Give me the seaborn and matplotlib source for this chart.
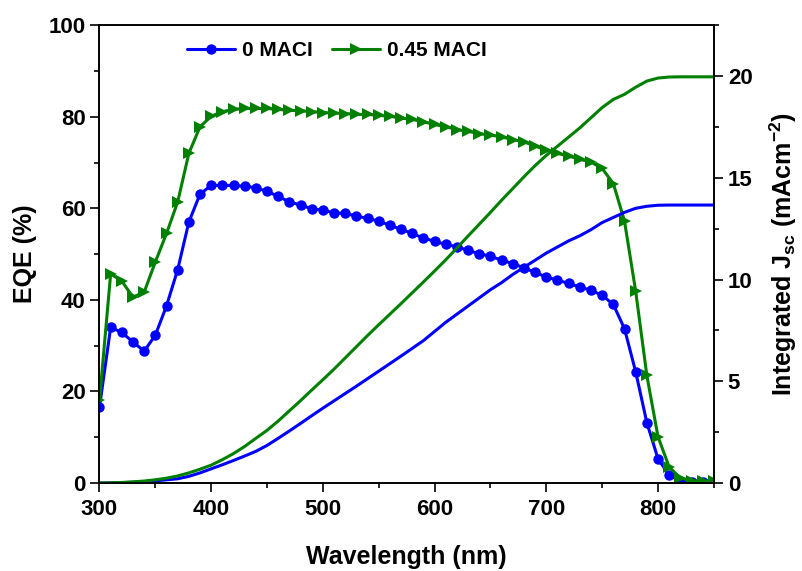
import numpy as np
import pandas as pd
import seaborn as sns
import matplotlib.pyplot as plt
from matplotlib.ticker import MultipleLocator

# wavelength grid (nm)
wavelength = list(range(300, 860, 10))

# EQE (%)
eqe_0 = [16.6, 34.0, 32.9, 30.8, 28.8, 32.3, 38.7, 46.6, 57.0, 63.1,
         65.0, 65.0, 65.0, 64.8, 64.5, 63.7, 62.6, 61.4, 60.7, 59.9,
         59.6, 59.0, 58.9, 58.3, 57.8, 57.2, 56.3, 55.4, 54.5, 53.5,
         52.8, 52.1, 51.6, 50.8, 50.1, 49.5, 48.7, 47.9, 47.0, 46.0,
         45.0, 44.3, 43.6, 42.8, 42.1, 41.0, 39.0, 33.7, 24.3, 13.2,
         5.3, 1.7, 0.5, 0.2, 0.2, 0.2]
eqe_045 = [18.1, 45.7, 44.1, 40.6, 41.7, 48.3, 54.5, 61.4, 72.0, 77.8,
           80.1, 81.1, 81.6, 81.8, 81.8, 81.8, 81.6, 81.4, 81.3, 81.1,
           80.9, 80.8, 80.7, 80.5, 80.5, 80.3, 80.1, 79.7, 79.4, 78.9,
           78.3, 77.8, 77.2, 76.8, 76.3, 76.0, 75.6, 75.0, 74.5, 73.6,
           72.7, 72.0, 71.4, 70.7, 70.1, 68.7, 65.4, 57.2, 41.9, 23.5,
           10.1, 3.5, 1.1, 0.5, 0.4, 0.4]

# integrated Jsc (mA cm^-2)
jsc_0 = [0.0, 0.01, 0.02, 0.04, 0.07, 0.11, 0.16, 0.21, 0.33, 0.50,
         0.70, 0.90, 1.11, 1.33, 1.56, 1.85, 2.20, 2.56, 2.93, 3.31,
         3.68, 4.04, 4.40, 4.76, 5.13, 5.50, 5.87, 6.24, 6.62, 7.00,
         7.45, 7.90, 8.30, 8.70, 9.10, 9.50, 9.85, 10.25, 10.60, 10.95,
         11.30, 11.60, 11.90, 12.15, 12.45, 12.80, 13.05, 13.30, 13.50, 13.60,
         13.65, 13.66, 13.66, 13.66, 13.66, 13.66]
jsc_045 = [0.0, 0.01, 0.03, 0.06, 0.10, 0.16, 0.24, 0.35, 0.50, 0.68,
           0.88, 1.15, 1.45, 1.80, 2.20, 2.59, 3.05, 3.55, 4.05, 4.57,
           5.08, 5.60, 6.15, 6.70, 7.25, 7.78, 8.30, 8.82, 9.35, 9.88,
           10.42, 10.97, 11.55, 12.14, 12.72, 13.30, 13.90, 14.47, 15.05, 15.60,
           16.10, 16.55, 17.00, 17.45, 17.95, 18.45, 18.85, 19.10, 19.45, 19.75,
           19.90, 19.95, 19.96, 19.96, 19.96, 19.96]

labels = ["0 MACI", "0.45 MACI"]
colors = ["#0000FF", "#008000"]

df = pd.DataFrame({"wl": wavelength, "eqe0": eqe_0, "eqe045": eqe_045,
                   "jsc0": jsc_0, "jsc045": jsc_045})

sns.set_theme(style="ticks")
plt.rcParams["font.family"] = ["Liberation Sans", "DejaVu Sans"]
plt.rcParams["font.weight"] = "bold"
plt.rcParams["text.color"] = "black"
plt.rcParams["axes.labelcolor"] = "black"
plt.rcParams["xtick.color"] = "black"
plt.rcParams["ytick.color"] = "black"
plt.rcParams["mathtext.fontset"] = "custom"
plt.rcParams["mathtext.rm"] = "Liberation Sans:bold"
plt.rcParams["mathtext.it"] = "Liberation Sans:bold"
plt.rcParams["mathtext.bf"] = "Liberation Sans:bold"

fig = plt.figure(figsize=(8.03, 5.71), dpi=100)
ax = fig.add_axes([0.1239, 0.154, 0.7651, 0.802])
ax2 = ax.twinx()

# EQE curves with markers
sns.lineplot(data=df, x="wl", y="eqe0", ax=ax, color=colors[0], lw=2.2,
             marker="o", markersize=7.5, markeredgewidth=0, label=labels[0])
sns.lineplot(data=df, x="wl", y="eqe045", ax=ax, color=colors[1], lw=2.2,
             marker=">", markersize=8, markeredgewidth=0, label=labels[1])

# integrated Jsc curves
sns.lineplot(data=df, x="wl", y="jsc0", ax=ax2, color=colors[0], lw=2.2, legend=False)
sns.lineplot(data=df, x="wl", y="jsc045", ax=ax2, color=colors[1], lw=2.2, legend=False)

ax.set_xlim(300, 850)
ax.set_ylim(0, 100)
ax2.set_ylim(0, 22.5)

ax.xaxis.set_major_locator(MultipleLocator(100))
ax.xaxis.set_minor_locator(MultipleLocator(50))
ax.yaxis.set_major_locator(MultipleLocator(20))
ax.yaxis.set_minor_locator(MultipleLocator(10))
ax2.yaxis.set_major_locator(MultipleLocator(5))
ax2.yaxis.set_minor_locator(MultipleLocator(2.5))

for a in (ax, ax2):
    a.tick_params(which="major", direction="out", length=6.5, width=1.2,
                  labelsize=16, color="black", labelcolor="black")
    a.tick_params(which="minor", direction="out", length=3.5, width=1.2,
                  color="black")
    for s in a.spines.values():
        s.set_linewidth(1.2)
        s.set_color("black")
ax.tick_params(axis="x", pad=5)
for t in ax.get_xticklabels() + ax.get_yticklabels() + ax2.get_yticklabels():
    t.set_fontweight("bold")

ax.set_xlabel("Wavelength (nm)", fontsize=18, fontweight="bold", labelpad=18)
ax.set_ylabel("EQE (%)", fontsize=18, fontweight="bold", labelpad=8)
ax2.set_ylabel(r"Integrated J$_{\mathrm{sc}}$ (mAcm$^{\mathrm{-2}}$)",
               fontsize=18, fontweight="bold", labelpad=11)

leg = ax.legend(loc="center left", bbox_to_anchor=(0.112, 0.945), ncol=2,
                frameon=False, handlelength=2.3, columnspacing=0.9,
                handletextpad=0.35, prop={"weight": "bold", "size": 15})
for t in leg.get_texts():
    t.set_color("black")

fig.savefig("out.png", dpi=100)
